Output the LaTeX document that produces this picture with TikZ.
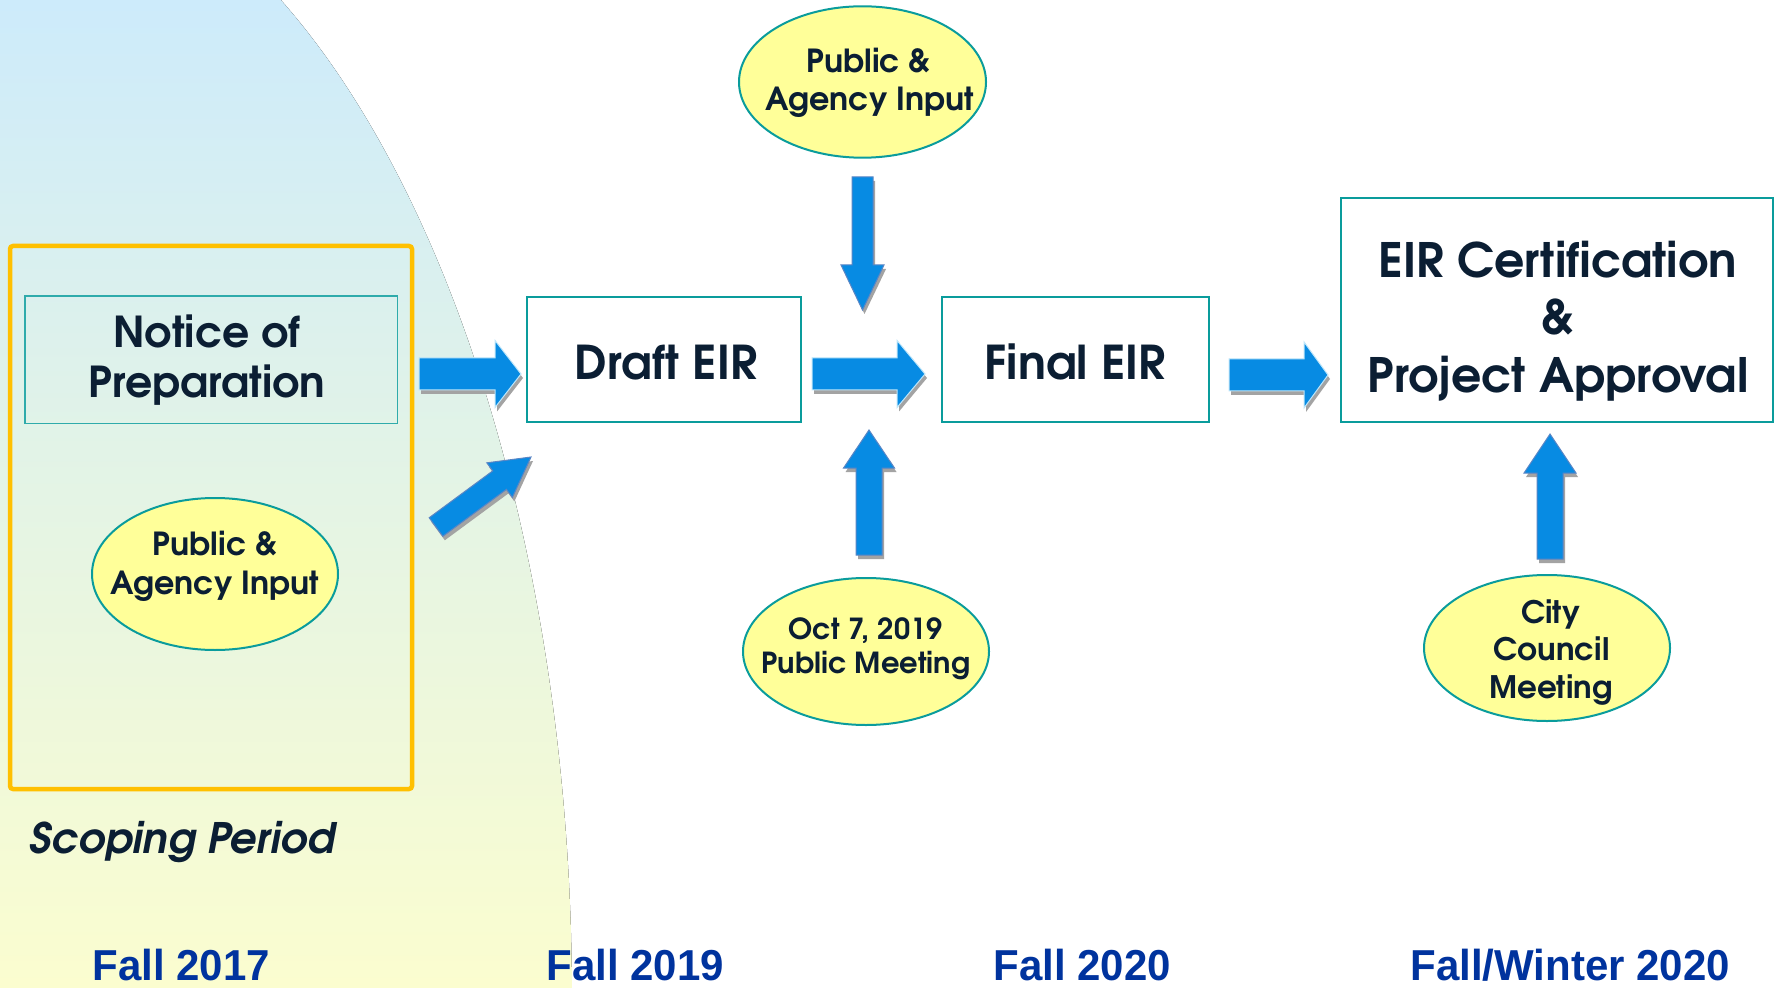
\documentclass[tikz,border=0pt]{standalone}
\usepackage{fontspec}
\setmainfont{TeX Gyre Adventor}
\newfontfamily\labfont[FakeStretch=0.97]{Liberation Sans}
\usetikzlibrary{shapes.geometric,calc}
\definecolor{boxteal}{HTML}{0A9C9C}
\definecolor{txtnavy}{HTML}{0B1E33}
\definecolor{labblue}{HTML}{00339E}
\definecolor{arrblue}{HTML}{078BE3}
\definecolor{shadgray}{HTML}{A3A3A3}
\definecolor{ellfill}{HTML}{FFFF99}
\definecolor{orangeb}{HTML}{FFC000}
\definecolor{bgtop}{HTML}{CDEBFB}
\definecolor{bgbot}{HTML}{FBFDCF}
\definecolor{hline}{HTML}{BEE6FA}
\definecolor{vline}{HTML}{5A86C5}
\newcommand\myfbig{\fontsize{23.3}{28}\selectfont\bfseries}
\newcommand\myfcert{\fontsize{23.7}{28}\selectfont\bfseries}
\newcommand\myfnop{\fontsize{21.3}{26}\selectfont\bfseries}
\newcommand\myfell{\fontsize{15.9}{19}\selectfont\bfseries}
\newcommand\myfoct{\fontsize{14.5}{17}\selectfont\bfseries}
\newcommand\myfcity{\fontsize{15.5}{18}\selectfont\bfseries}
\newcommand\myfscope{\fontsize{21}{25}\selectfont\bfseries\itshape}
\newcommand\myflab{\fontsize{21.65}{26}\selectfont\labfont\bfseries}
% block arrow: #1 start, #2 tip, #3 shaft half width, #4 head half width, #5 head length, #6 outline
\newcommand\blockarrow[6]{%
  \coordinate (#2-h) at ($(#2)!#5!(#1)$);
  \begin{scope}[transform canvas={xshift=1pt,yshift=-2pt}]
    \fill[shadgray] ($(#1)!#3!90:(#2)$) -- ($(#2-h)!#3!90:(#2)$) -- ($(#2-h)!#4!90:(#2)$) -- (#2)
      -- ($(#2-h)!#4!-90:(#2)$) -- ($(#2-h)!#3!-90:(#2)$) -- ($(#1)!#3!-90:(#2)$) -- cycle;
  \end{scope}
  \filldraw[fill=arrblue, draw=#6, line width=0.5pt, line join=miter]
    ($(#1)!#3!90:(#2)$) -- ($(#2-h)!#3!90:(#2)$) -- ($(#2-h)!#4!90:(#2)$) -- (#2)
      -- ($(#2-h)!#4!-90:(#2)$) -- ($(#2-h)!#3!-90:(#2)$) -- ($(#1)!#3!-90:(#2)$) -- cycle;
}
\begin{document}
\begin{tikzpicture}[x=0.5pt,y=-0.5pt,
  scopebox/.style={draw=orangeb, line width=2.25pt, rounded corners=1.5pt, inner sep=0pt},
  nopbox/.style={draw=boxteal!85, line width=0.7pt, inner sep=0pt},
  mainbox/.style={draw=boxteal, line width=1.25pt, fill=white, inner sep=0pt},
  ell/.style={ellipse, draw=boxteal, line width=1pt, fill=ellfill, inner sep=0pt},
  txt/.style={text=txtnavy, inner sep=0pt, anchor=base},
  lab/.style={text=labblue, inner sep=0pt, anchor=base west, font=\myflab}]
\useasboundingbox (0,0) rectangle (1775,988);
\fill[white] (0,0) rectangle (1775,988);
\fill[top color=bgtop, bottom color=bgbot] (0,0) -- plot[domain=60.6:0.6, samples=90] ({572*cos(\x)},{1000-1148*sin(\x)}) -- (0,988) -- cycle;

% boxes and ellipses
\node[scopebox, minimum width=201pt, minimum height=271.5pt] (scoping) at (211,517.5) {};
\node[nopbox, minimum width=186.25pt, minimum height=63.75pt] (nop) at (211.25,359.75) {};
\node[mainbox, minimum width=137pt, minimum height=62.5pt] (draft) at (664,359.5) {};
\node[mainbox, minimum width=133.5pt, minimum height=62.5pt] (final) at (1075.5,359.5) {};
\node[mainbox, minimum width=216pt, minimum height=112pt] (cert) at (1557,310) {};
\node[ell, minimum width=123.5pt, minimum height=75.7pt] (inputtop) at (862.5,82) {};
\node[ell, minimum width=123pt, minimum height=76pt] (inputscope) at (215,574) {};
\node[ell, minimum width=123pt, minimum height=73.5pt] (oct) at (866,651.5) {};
\node[ell, minimum width=123pt, minimum height=73pt] (city) at (1547,648) {};

% texts
\node[txt, font=\myfnop] (t-nop1) at (207,347.6) {Notice of};
\node[txt, font=\myfnop] (t-nop2) at (207,398) {Preparation};
\node[txt, font=\myfbig] (t-draft) at (666,380) {Draft EIR};
\node[txt, font=\myfbig] (t-final) at (1075,380) {Final EIR};
\node[txt, font=\myfcert] (t-cert1) at (1558,277.5) {EIR Certification};
\node[txt, font=\myfcert] (t-cert2) at (1558,335) {\&};
\node[txt, font=\myfcert] (t-cert3) at (1558,392.5) {Project Approval};
\node[txt, font=\myfell] (t-top1) at (868.5,72.7) {Public \&};
\node[txt, font=\myfell] (t-top2) at (870,110.7) {Agency Input};
\node[txt, font=\myfell] (t-sc1) at (215,555.6) {Public \&};
\node[txt, font=\myfell] (t-sc2) at (215,594) {Agency Input};
\node[txt, font=\myfoct] (t-oct1) at (865.5,639) {Oct 7, 2019};
\node[txt, font=\myfoct] (t-oct2) at (866,673) {Public Meeting};
\node[txt, font=\myfcity] (t-city1) at (1550.7,623) {City};
\node[txt, font=\myfcity] (t-city2) at (1551.7,660) {Council};
\node[txt, font=\myfcity] (t-city3) at (1551,698) {Meeting};
\node[txt, anchor=base west, font=\myfscope] (t-scope) at (29,853) {Scoping Period};
\node[lab] (l1) at (92,980) {Fall 2017};
\node[lab] (l2) at (546,980) {Fall 2019};
\node[lab] (l3) at (993,980) {Fall 2020};
\node[lab] (l4) at (1410,980) {Fall/Winter 2020};

% arrow end points
\coordinate (a1s) at (419,374);  \coordinate (a1e) at (521,374);
\coordinate (a2s) at (812,374);  \coordinate (a2e) at (925,374);
\coordinate (a3s) at (1229,375); \coordinate (a3e) at (1328,375);
\coordinate (a4s) at (436,527);  \coordinate (a4e) at (531,457);
\coordinate (a5s) at (862.5,177); \coordinate (a5e) at (862.5,310);
\coordinate (a6s) at (869,555);  \coordinate (a6e) at (869,430);
\coordinate (a7s) at (1550,559); \coordinate (a7e) at (1550,434);

\blockarrow{a1s}{a1e}{8pt}{16.75pt}{13pt}{hline}
\blockarrow{a2s}{a2e}{8pt}{16.75pt}{14pt}{hline}
\blockarrow{a3s}{a3e}{8pt}{16.5pt}{12pt}{hline}
\blockarrow{a4s}{a4e}{5.75pt}{10.75pt}{19.5pt}{vline}
\blockarrow{a5s}{a5e}{5.25pt}{10.75pt}{22.5pt}{vline}
\blockarrow{a6s}{a6e}{6.5pt}{12.75pt}{19pt}{vline}
\blockarrow{a7s}{a7e}{6.5pt}{13pt}{19.5pt}{vline}
\end{tikzpicture}
\end{document}
